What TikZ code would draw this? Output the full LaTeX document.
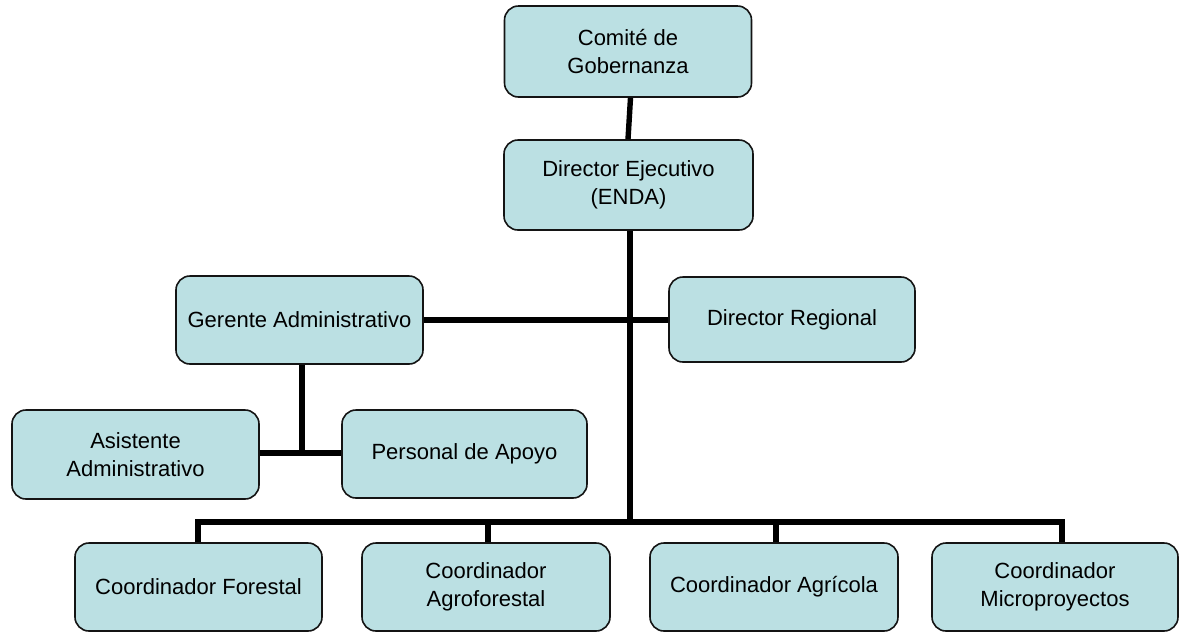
\documentclass[tikz,border=0pt]{standalone}
\usepackage{fontspec}
\setmainfont{Liberation Sans}
\definecolor{boxfill}{RGB}{187,224,227}
\definecolor{boxline}{RGB}{20,20,20}
\begin{document}
\begin{tikzpicture}[x=1pt,y=-1pt,
  orgbox/.style={draw=boxline, line width=1.6pt, fill=boxfill, rounded corners=14pt,
    minimum width=247pt, minimum height=88pt, align=center, inner sep=2pt,
    font=\fontsize{22}{28}\selectfont},
  link/.style={draw=black, line width=5.4pt}]
\useasboundingbox (0,0) rectangle (1180,633);
\node[orgbox, minimum height=91pt] (com) at (628,51.5) {Comité de\\Gobernanza};
\node[orgbox, minimum width=249pt, minimum height=90pt] (dir) at (628.5,185) {Director Ejecutivo\\(ENDA)};
\node[orgbox] (ger) at (299.5,320) {Gerente Administrativo};
\node[orgbox, minimum width=246pt, minimum height=85pt] (reg) at (792,319.5) {Director Regional};
\node[orgbox, minimum height=89pt] (asi) at (135.5,454.5) {Asistente\\Administrativo};
\node[orgbox, minimum width=245pt] (per) at (464.5,454) {Personal de Apoyo};
\node[orgbox] (cf) at (198.5,587) {Coordinador Forestal};
\node[orgbox, minimum width=248pt] (cag) at (486,587) {Coordinador\\Agroforestal};
\node[orgbox, minimum width=248pt] (cagr) at (774,587) {Coordinador Agrícola};
\node[orgbox, minimum width=246pt] (cm) at (1055,587) {Coordinador\\Microproyectos};
% connectors
\coordinate (busc) at (630,522);
\coordinate (asij) at (302,453);
\draw[link] ([xshift=2.5pt]com.south) -- ([xshift=-0.5pt]dir.north);
\draw[link] ([xshift=1.5pt]dir.south) -- (busc);
\draw[link] (ger.east) -- (reg.west |- ger.east);
\draw[link] ([xshift=2.5pt]ger.south) -- (asij);
\draw[link] (asi.east |- asij) -- (per.west |- asij);
\draw[link, line join=miter] (cf.north -| 198,0) |- (busc) -| (cm.north -| 1062,0);
\draw[link] (cag.north -| 488,0) -- (488,522);
\draw[link] (cagr.north -| 776,0) -- (776,522);
\end{tikzpicture}
\end{document}
